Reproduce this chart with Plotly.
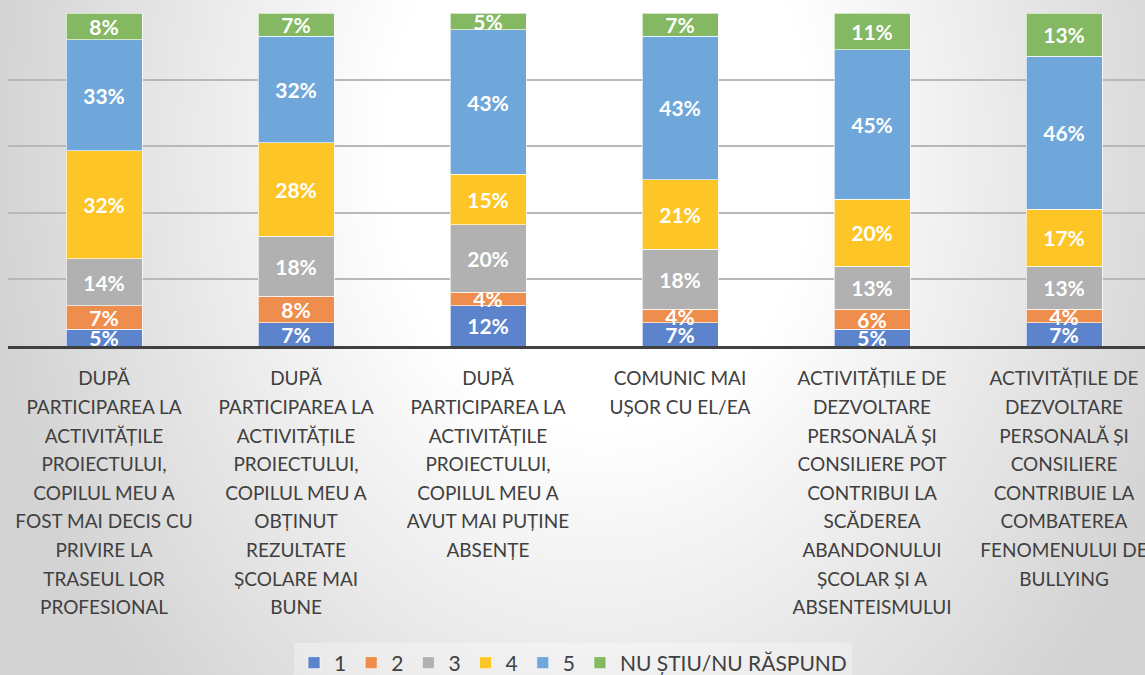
import base64
import struct
import zlib

import numpy as np
import plotly.graph_objects as go

# Survey statements (category axis)
categories = [
    "DUPĂ<br>PARTICIPAREA LA<br>ACTIVITĂȚILE<br>PROIECTULUI,<br>COPILUL MEU A<br>FOST MAI DECIS CU<br>PRIVIRE LA<br>TRASEUL LOR<br>PROFESIONAL",
    "DUPĂ<br>PARTICIPAREA LA<br>ACTIVITĂȚILE<br>PROIECTULUI,<br>COPILUL MEU A<br>OBȚINUT<br>REZULTATE<br>ȘCOLARE MAI<br>BUNE",
    "DUPĂ<br>PARTICIPAREA LA<br>ACTIVITĂȚILE<br>PROIECTULUI,<br>COPILUL MEU A<br>AVUT MAI PUȚINE<br>ABSENȚE",
    "COMUNIC MAI<br>UȘOR CU EL/EA",
    "ACTIVITĂȚILE DE<br>DEZVOLTARE<br>PERSONALĂ ȘI<br>CONSILIERE POT<br>CONTRIBUI LA<br>SCĂDEREA<br>ABANDONULUI<br>ȘCOLAR ȘI A<br>ABSENTEISMULUI",
    "ACTIVITĂȚILE DE<br>DEZVOLTARE<br>PERSONALĂ ȘI<br>CONSILIERE<br>CONTRIBUIE LA<br>COMBATEREA<br>FENOMENULUI DE<br>BULLYING",
]

# Answer shares (%) per statement, bottom to top of each stack
series_names = ["1", "2", "3", "4", "5", "NU ȘTIU/NU RĂSPUND"]
answer_1 = [5, 7, 12, 7, 5, 7]
answer_2 = [7, 8, 4, 4, 6, 4]
answer_3 = [14, 18, 20, 18, 13, 13]
answer_4 = [32, 28, 15, 21, 20, 17]
answer_5 = [33, 32, 43, 43, 45, 46]
answer_nu = [8, 7, 5, 7, 11, 13]
series_values = [answer_1, answer_2, answer_3, answer_4, answer_5, answer_nu]

colors = ["#5b84cc", "#ef8d4c", "#b1b1b1", "#fdc526", "#70a7db", "#84b862"]

W, H = 1145, 675
ML, MR, MT, MB = 8, 0, 13, 329
PW, PH = W - ML - MR, H - MT - MB
CAT_PITCH = 192  # px between category centres
BAR_PX = 76      # bar width in px

FONT = "Lato"
TEXT_COLOR = "#404040"


def gradient_png(w, h):
    """Soft radial grey-to-white backdrop encoded as a PNG data URI."""
    X, Y = np.meshgrid(np.arange(w), np.arange(h))
    d = np.sqrt(((X - 600) / 620.0) ** 2 + ((Y - 150) / 800.0) ** 2)
    t = np.clip((d - 0.35) / 0.65, 0, 1)
    v = (255 - 44 * t).astype(np.uint8)
    raw = b"".join(b"\x00" + v[r].tobytes() for r in range(h))

    def chunk(tag, data):
        return (struct.pack(">I", len(data)) + tag + data
                + struct.pack(">I", zlib.crc32(tag + data) & 0xFFFFFFFF))

    png = (b"\x89PNG\r\n\x1a\n"
           + chunk(b"IHDR", struct.pack(">IIBBBBB", w, h, 8, 0, 0, 0, 0))
           + chunk(b"IDAT", zlib.compress(raw, 9))
           + chunk(b"IEND", b""))
    return "data:image/png;base64," + base64.b64encode(png).decode()


def tick_label(text, size=19):
    # keep line pitch from the (larger) tick font, draw glyphs smaller
    return "<br>".join(f'<span style="font-size:{size}px">{ln}</span>'
                       for ln in text.split("<br>"))


fig = go.Figure()
for name, vals, col in zip(series_names, series_values, colors):
    fig.add_bar(
        x=categories,
        y=vals,
        name=name,
        marker=dict(color=col, line=dict(color="rgba(255,255,255,0.65)", width=1)),
        text=[f"{v}%" for v in vals],
        textposition="inside",
        insidetextanchor="middle",
        constraintext="none",
        textangle=0,
        textfont=dict(family=FONT, size=21, color="white", weight="bold"),
        hoverinfo="skip",
    )

fig.update_layout(
    width=W,
    height=H,
    margin=dict(l=ML, r=MR, t=MT, b=MB, pad=0, autoexpand=False),
    barmode="stack",
    barnorm="percent",
    bargap=1 - BAR_PX / CAT_PITCH,
    paper_bgcolor="white",
    plot_bgcolor="rgba(0,0,0,0)",
    font=dict(family=FONT, color=TEXT_COLOR),
    showlegend=True,
    legend=dict(
        orientation="h",
        x=(573 - ML) / PW,
        xanchor="center",
        y=(MT + PH - 663) / PH,
        yanchor="middle",
        font=dict(family=FONT, size=21, color=TEXT_COLOR),
        bgcolor="rgba(255,255,255,0.3)",
        traceorder="normal",
        itemwidth=30,
    ),
    xaxis=dict(
        range=[-0.5, -0.5 + PW / CAT_PITCH],
        tickmode="array",
        tickvals=categories,
        ticktext=[tick_label(c) for c in categories],
        tickangle=0,
        tickfont=dict(family=FONT, size=22, color=TEXT_COLOR),
        ticklabelstandoff=10,
        showline=True,
        linecolor="#404040",
        linewidth=3,
        ticks="",
        showgrid=False,
        fixedrange=True,
    ),
    yaxis=dict(
        range=[0, 100],
        dtick=20,
        showticklabels=False,
        showgrid=True,
        gridcolor="#b8b8b8",
        gridwidth=1.5,
        zeroline=False,
        fixedrange=True,
    ),
    images=[dict(
        source=gradient_png(W, H),
        xref="paper",
        yref="paper",
        x=-ML / PW,
        y=1 + MT / PH,
        sizex=W / PW,
        sizey=H / PH,
        xanchor="left",
        yanchor="top",
        sizing="stretch",
        layer="below",
    )],
)

fig.write_html("out.html", config={"displayModeBar": False})
